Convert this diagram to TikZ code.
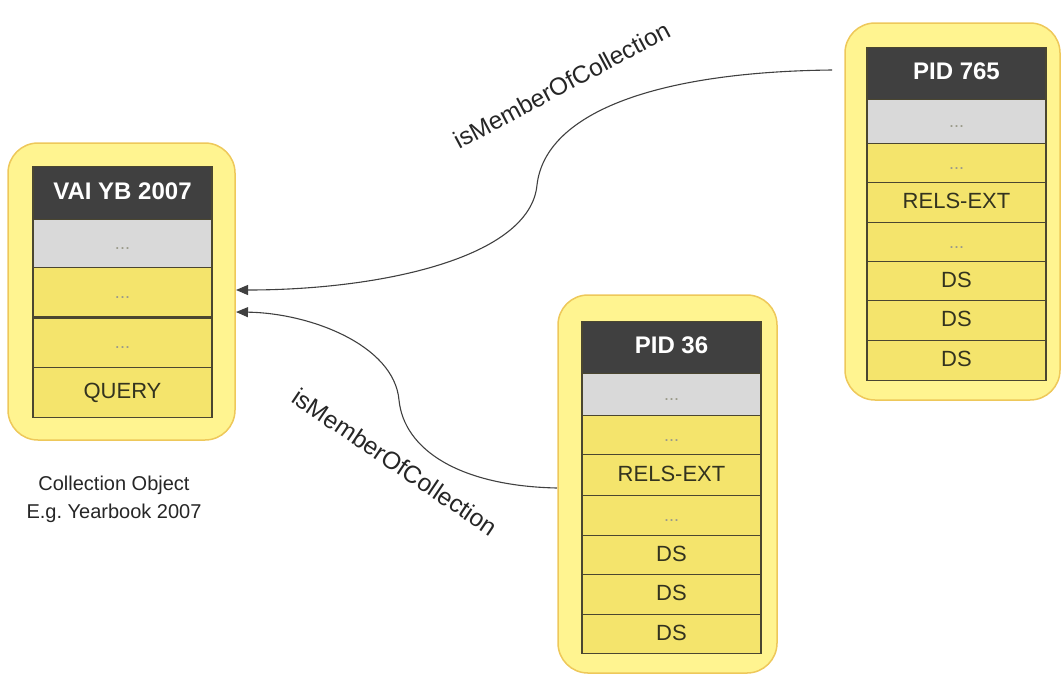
\documentclass[tikz,border=0pt]{standalone}
\usepackage{fontspec}
\setmainfont{Liberation Sans}
\usetikzlibrary{arrows.meta}
\definecolor{outerfill}{HTML}{FFF490}
\definecolor{outerdraw}{HTML}{EEC85A}
\definecolor{rowfill}{HTML}{F4E46C}
\definecolor{rowdraw}{HTML}{4A4630}
\definecolor{headfill}{HTML}{404040}
\definecolor{grayfill}{HTML}{D9D9D9}
\definecolor{dotcol}{HTML}{9A9A8A}
\definecolor{linecol}{HTML}{404040}
\definecolor{rowtext}{HTML}{33331F}
\tikzset{
  outerbox/.style={draw=outerdraw, fill=outerfill, line width=1.5pt, rounded corners=30pt, inner sep=0pt},
  rowbox/.style={draw=rowdraw, fill=rowfill, line width=1.1pt, minimum width=179pt, inner sep=0pt,
    anchor=north, text height=16pt, text depth=4pt, font=\fontsize{22}{24}\selectfont, text=rowtext},
  dotrow/.style={rowbox, font=\fontsize{18}{20}\selectfont, text=dotcol},
  grayrow/.style={dotrow, fill=grayfill},
  headrow/.style={rowbox, fill=headfill, text=white, font=\fontsize{24}{26}\bfseries\selectfont},
  relarrow/.style={draw=linecol, line width=1.1pt, -{Triangle[length=12pt,width=10pt]}},
  rellabel/.style={font=\fontsize{24.5}{28}\selectfont, text=black!85},
  caption/.style={font=\fontsize{20}{28}\selectfont, align=center, text=black!85}
}
\begin{document}
\begin{tikzpicture}[x=1pt,y=-1pt]
\useasboundingbox (0,0) rectangle (1062,675);
% outer boxes
\node[outerbox, minimum width=227pt, minimum height=297pt] (lbox) at (121.5,291.5) {};
\node[outerbox, minimum width=219pt, minimum height=378pt] (mbox) at (667.5,484) {};
\node[outerbox, minimum width=215pt, minimum height=377pt] (rbox) at (952.5,211.5) {};
% left stack
\node[headrow, minimum height=53pt] (l1) at (122.5,166) {VAI YB 2007};
\node[grayrow, minimum height=48pt] (l2) at (122.5,219) {...};
\node[dotrow, minimum height=49pt] (l3) at (122.5,267) {...};
\node[dotrow, minimum height=51pt] (l4) at (122.5,316) {...};
\node[rowbox, minimum height=50pt] (l5) at (122.5,367) {QUERY};
\draw[rowdraw, line width=3pt] (l3.south west) -- (l3.south east);
% middle stack
\node[headrow, minimum height=52pt] (m1) at (671.5,321) {PID 36};
\node[grayrow, minimum height=42pt] (m2) at (671.5,373) {...};
\node[dotrow, minimum height=39pt] (m3) at (671.5,415) {...};
\node[rowbox, minimum height=41pt] (m4) at (671.5,454) {RELS-EXT};
\node[dotrow, minimum height=40pt] (m5) at (671.5,495) {...};
\node[rowbox, minimum height=39pt] (m6) at (671.5,535) {DS};
\node[rowbox, minimum height=40pt] (m7) at (671.5,574) {DS};
\node[rowbox, minimum height=39pt] (m8) at (671.5,614) {DS};
% right stack
\node[headrow, minimum height=52pt] (r1) at (956.5,47) {PID 765};
\node[grayrow, minimum height=44pt] (r2) at (956.5,99) {...};
\node[dotrow, minimum height=39pt] (r3) at (956.5,143) {...};
\node[rowbox, minimum height=40pt] (r4) at (956.5,182) {RELS-EXT};
\node[dotrow, minimum height=39pt] (r5) at (956.5,222) {...};
\node[rowbox, minimum height=39pt] (r6) at (956.5,261) {DS};
\node[rowbox, minimum height=40pt] (r7) at (956.5,300) {DS};
\node[rowbox, minimum height=40pt] (r8) at (956.5,340) {DS};
% caption
\node[caption] (cap) at (114,499) {Collection Object\\E.g.\ Yearbook 2007};
% connectors
\coordinate (t1s) at (832,70);
\coordinate (t1m) at (537,185);
\coordinate (t1e) at (236,290);
\coordinate (t2s) at (557,488);
\coordinate (t2m) at (399,400);
\coordinate (t2e) at (236,312);
\draw[relarrow] (t1s) .. controls (650,72) and (545,115) .. (t1m)
  .. controls (530,258) and (380,290) .. (t1e);
\draw[relarrow] (t2s) .. controls (460,486) and (404,450) .. (t2m)
  .. controls (394,345) and (310,313) .. (t2e);
\node[rellabel, rotate=28] (lab1) at (562,85) {isMemberOfCollection};
\node[rellabel, rotate=-34] (lab2) at (395,462) {isMemberOfCollection};
\end{tikzpicture}
\end{document}
